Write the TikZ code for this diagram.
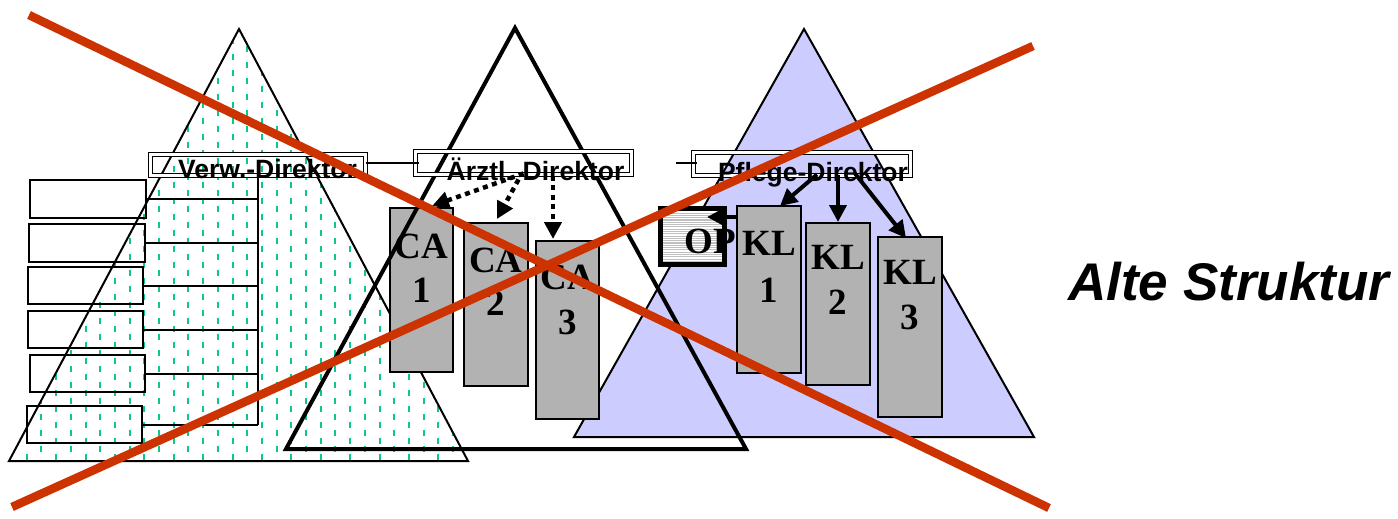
\documentclass[tikz,border=0pt]{standalone}
\usepackage{fontspec}
\setmainfont{Liberation Serif}
\setsansfont{Liberation Sans}
\usetikzlibrary{arrows.meta,calc}

\definecolor{crossred}{HTML}{CC3300}
\definecolor{lavender}{HTML}{CCCCFF}
\definecolor{boxgray}{HTML}{B2B2B2}
\definecolor{dashgreen}{RGB}{10,200,140}

\begin{document}
\begin{tikzpicture}[x=1pt,y=-1pt,
  dirbox/.style={draw, line width=1.4pt, double, double distance=2.4pt,
    minimum height=21pt, inner sep=0pt, outer sep=0pt},
  dirtext/.style={font=\sffamily\bfseries\fontsize{26.5}{26.5}\selectfont,
    inner sep=0pt, anchor=base},
  sidebox/.style={draw, line width=2pt, minimum width=115pt,
    minimum height=37pt, inner sep=0pt, outer sep=0pt},
  unitbox/.style={draw, fill=boxgray, line width=2pt, minimum width=63pt,
    inner sep=0pt, outer sep=0pt},
  unittext/.style={font=\rmfamily\bfseries\fontsize{37}{37}\selectfont,
    inner sep=0pt, anchor=base},
  solidarr/.style={line width=4pt, -{Triangle[length=17pt,width=17pt]}},
  dotarr/.style={line width=4.5pt, dash pattern=on 5pt off 4.5pt,
    -{Triangle[length=17pt,width=17pt]}},
  crossline/.style={crossred, line width=8.5pt}
]
\useasboundingbox (0,0) rectangle (1398,519);
\fill[white] (0,0) rectangle (1398,519);

% --- administration pyramid (dotted green fill)
\coordinate (gtop) at (239,29);
\coordinate (gleft) at (9,461);
\coordinate (gright) at (468,461);
\fill[white] (gtop) -- (gleft) -- (gright) -- cycle;
\begin{scope}
  \clip (gtop) -- (gleft) -- (gright) -- cycle;
  \foreach \i in {0,...,31} {
    \pgfmathsetmacro{\xx}{12+\i*14.7}
    \pgfmathsetmacro{\ph}{mod(\i,2)*8}
    \draw[dashgreen, line width=2pt, dash pattern=on 6pt off 10pt, dash phase=\ph pt]
      (\xx,30) -- (\xx,462);
  }
\end{scope}
\draw[line width=2pt, line join=miter] (gtop) -- (gleft) -- (gright) -- cycle;

% --- nursing pyramid (lavender)
\coordinate (btop) at (804,29);
\coordinate (bleft) at (574,437);
\coordinate (bright) at (1034,437);
\filldraw[fill=lavender, draw=black, line width=2pt] (btop) -- (bleft) -- (bright) -- cycle;

% --- administration side boxes and bracket
\node[dirbox, minimum width=215pt] (verw) at (258,165) {};
\node[sidebox, minimum width=116pt, minimum height=38pt] (s1) at (88,199) {};
\node[sidebox, minimum width=116pt, minimum height=38pt] (s2) at (87,243) {};
\node[sidebox] (s3) at (85.5,285.5) {};
\node[sidebox] (s4) at (85.5,329.5) {};
\node[sidebox] (s5) at (87,373.5) {};
\node[sidebox] (s6) at (84.5,424.5) {};
\coordinate (spine) at (258,425);
\draw[line width=2.5pt] (verw.south) -- (spine);
\foreach \s in {s1,s2,s3,s4,s5,s6}
  \draw[line width=2pt] (\s.east) -- (\s.east -| spine);

% --- medical units
\node[unitbox, minimum height=164pt] (ca1) at (421.5,290) {};
\node[unitbox, minimum width=64pt, minimum height=163pt] (ca2) at (496,304.5) {};
\node[unitbox, minimum height=178pt] (ca3) at (567.5,330) {};
\node[unittext] (ca1a) at ($(ca1.north)+(0,50)$) {CA};
\node[unittext] (ca1b) at ($(ca1.north)+(0,94)$) {1};
\node[unittext] (ca2a) at ($(ca2.north)+(0,49)$) {CA};
\node[unittext] (ca2b) at ($(ca2.north)+(0,92)$) {2};
\node[unittext] (ca3a) at ($(ca3.north)+(0,48)$) {CA};
\node[unittext] (ca3b) at ($(ca3.north)+(0,93)$) {3};

% --- operating theatre
\node[draw, line width=5.5pt, fill=white, minimum width=64pt, minimum height=56pt,
  inner sep=0pt, outer sep=0pt,
  path picture={\foreach \k in {0,...,30}
    \draw[gray!50, line width=1.1pt]
      ($(path picture bounding box.north west)+(0,\k*2.3)$) -- ++(80,0);}]
  (op) at (692.5,236.5) {};
\node[unittext] (opt) at (710,253) {OP};

% --- nursing units
\node[unitbox, minimum width=64pt, minimum height=167pt] (kl1) at (769,289.5) {};
\node[unitbox, minimum width=64pt, minimum height=162pt] (kl2) at (838,304) {};
\node[unitbox, minimum width=64pt, minimum height=180pt] (kl3) at (910,327) {};
\node[unittext] (kl1a) at ($(kl1.north)+(0,49)$) {KL};
\node[unittext] (kl1b) at ($(kl1.north)+(0,96)$) {1};
\node[unittext] (kl2a) at ($(kl2.north)+(0,46)$) {KL};
\node[unittext] (kl2b) at ($(kl2.north)+(0,91)$) {2};
\node[unittext] (kl3a) at ($(kl3.north)+(0,47)$) {KL};
\node[unittext] (kl3b) at ($(kl3.north)+(0,92)$) {3};

% --- medical pyramid (outline only)
\coordinate (mtop) at (515,28);
\coordinate (mleft) at (286,449);
\coordinate (mright) at (746,449);
\draw[line width=4pt, line join=miter] (mtop) -- (mleft) -- (mright) -- cycle;

% --- directors
\node[dirbox, minimum width=216pt, minimum height=23pt] (aerztl) at (523.5,163) {};
\node[dirbox, minimum width=217pt, minimum height=23pt] (pflege) at (802,164) {};
\node[dirtext] (verwt) at (267.5,178) {Verw.-Direktor};
\node[dirtext] (aerztlt) at (535.5,180) {Ärztl. Direktor};
\node[dirtext] (pfleget) at (813,181) {Pflege-Direktor};
\draw[line width=1.3pt] ($(verw.east)+(0,-2)$) -- ($(aerztl.west)+(3,0)$);
\coordinate (plink) at (676,163);
\draw[line width=1.3pt] (plink) -- ($(pflege.west)+(3.5,-1)$);

% --- reporting lines
\draw[dotarr] ($(aerztl.south)+(0,-1)$) -- ($(ca1.north)+(10.5,-2)$);
\draw[dotarr] ($(aerztl.south)+(-5,5)$) -- ($(ca2.north)+(1,-4)$);
\draw[dotarr] ($(aerztl.south)+(29.5,1)$) -- ($(ca3.north)+(-14.5,-2)$);
\draw[solidarr] ($(pflege.south)+(15,-1)$) -- ($(kl1.north)+(11,0)$);
\draw[solidarr] ($(pflege.south)+(36,-1)$) -- ($(kl2.north)+(0,-1)$);
\draw[solidarr] ($(pflege.south)+(53,-2)$) -- ($(kl3.north)+(-4,1)$);
\coordinate (opin) at (707,217);
\draw[solidarr] ($(kl1.north west)+(0,11)$) -- (opin);

% --- crossing out
\coordinate (c1a) at (29,15);
\coordinate (c1b) at (1049,508);
\coordinate (c2a) at (12,507);
\coordinate (c2b) at (1033,46);
\draw[crossline] (c1a) -- (c1b);
\draw[crossline] (c2a) -- (c2b);

\node[font=\sffamily\bfseries\itshape\fontsize{53}{53}\selectfont,
  inner sep=0pt, anchor=base west] (title) at (1068,300) {Alte Struktur};
\end{tikzpicture}
\end{document}
